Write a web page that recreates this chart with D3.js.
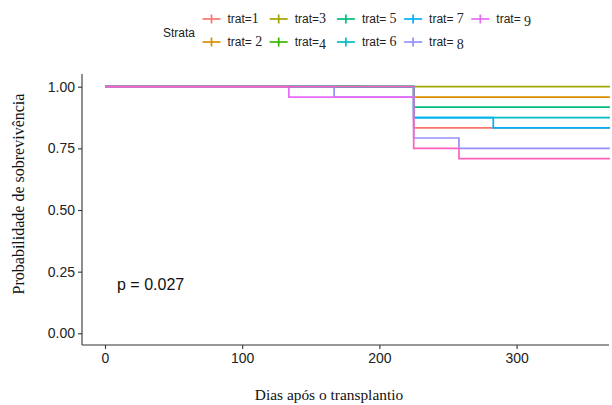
<!DOCTYPE html>
<html>
<head>
<meta charset="utf-8">
<script src="https://cdn.jsdelivr.net/npm/d3@7"></script>
<style>
  body { margin: 0; background: #fff; }
  svg { display: block; }
</style>
</head>
<body>
<div id="chart"></div>
<script>
// strata in drawing order (last one on top)
var strata = ["trat=1", "trat=2", "trat=3", "trat=4", "trat=5", "trat=6", "trat=7", "trat=8", "trat=9", "trat=10"];
var colors = ["#F8766D", "#D89000", "#A3A500", "#39B600", "#00BF7D", "#00BFC4", "#00B0F6", "#9590FF", "#E76BF3", "#FF62BC"];

// step times and survival after each step
var times = [
    [0, 225],
    [0, 225],
    [0],
    [0],
    [0, 225],
    [0, 225],
    [0, 225, 283],
    [0, 167, 225, 258],
    [0, 134],
    [0, 225, 258]
];
var surv = [
    [1, 0.833],
    [1, 0.958],
    [1],
    [1],
    [1, 0.917],
    [1, 0.875],
    [1, 0.875, 0.833],
    [1, 0.958, 0.792, 0.750],
    [1, 0.958],
    [1, 0.750, 0.708]
];
// last follow-up time of each stratum
var endTime = [368, 368, 368, 190, 368, 368, 368, 368, 225, 368];

// legend (as written on the picture)
var legendDigits = ["1", "2", "3", "4", "5", "6", "7", "8", "9"];
var legendSpace = [false, true, false, false, true, true, true, true, true];

var xTicks = [0, 100, 200, 300];
var yTicks = [0, 0.25, 0.5, 0.75, 1];

var W = 612, H = 405;
var panel = { left: 82, right: 609, top: 74, bottom: 345 };

var svg = d3.select("#chart")
    .append("svg")
    .attr("width", W)
    .attr("height", H);

var x = d3.scaleLinear()
    .domain([0, 300])
    .range([105, 516.6]);

var y = d3.scaleLinear()
    .domain([0, 1])
    .range([333.3, 86.7]);

svg.append("clipPath")
    .attr("id", "clip")
    .append("rect")
    .attr("x", panel.left)
    .attr("y", panel.top - 5)
    .attr("width", panel.right - panel.left + 2)
    .attr("height", panel.bottom - panel.top + 5);

// curves
var line = d3.line()
    .x(function (d) { return x(d[0]); })
    .y(function (d) { return y(d[1]); })
    .curve(d3.curveStepAfter);

var curves = strata.map(function (s, i) {
    var pts = times[i].map(function (t, j) { return [t, surv[i][j]]; });
    pts.push([endTime[i], surv[i][surv[i].length - 1]]);
    return pts;
});

svg.append("g")
    .attr("clip-path", "url(#clip)")
    .selectAll("path")
    .data(curves)
    .enter()
    .append("path")
    .attr("d", line)
    .attr("fill", "none")
    .attr("stroke", function (d, i) { return colors[i]; })
    .attr("stroke-width", 1.7);

// axes
var xAxis = svg.append("g")
    .attr("transform", "translate(0," + panel.bottom + ")")
    .call(d3.axisBottom(x).tickValues(xTicks).tickSize(4).tickPadding(4).tickFormat(d3.format("d")));
xAxis.select(".domain").attr("d", "M" + panel.left + ",0H" + panel.right);

var yAxis = svg.append("g")
    .attr("transform", "translate(" + panel.left + ",0)")
    .call(d3.axisLeft(y).tickValues(yTicks).tickSize(4).tickPadding(3).tickFormat(d3.format(".2f")));
yAxis.select(".domain").attr("d", "M0," + panel.top + "V" + panel.bottom);

svg.selectAll(".domain").attr("stroke", "#333").attr("stroke-width", 1.1);
svg.selectAll(".tick line").attr("stroke", "#333").attr("stroke-width", 1.1);
svg.selectAll(".tick text")
    .attr("font-family", "Liberation Sans, Arial, sans-serif")
    .attr("font-size", 14)
    .attr("fill", "#222");

// axis titles
svg.append("text")
    .attr("x", 329)
    .attr("y", 400)
    .attr("text-anchor", "middle")
    .attr("font-family", "Liberation Serif, Times New Roman, serif")
    .attr("font-size", 15.4)
    .attr("fill", "#111")
    .text("Dias após o transplantio");

svg.append("text")
    .attr("transform", "translate(24,194) rotate(-90)")
    .attr("text-anchor", "middle")
    .attr("font-family", "Liberation Serif, Times New Roman, serif")
    .attr("font-size", 16)
    .attr("fill", "#111")
    .text("Probabilidade de sobrevivência");

// p-value
svg.append("text")
    .attr("x", 117)
    .attr("y", 290)
    .attr("font-family", "Liberation Sans, Arial, sans-serif")
    .attr("font-size", 16)
    .attr("fill", "#111")
    .text("p = 0.027");

// legend
var legend = svg.append("g")
    .attr("font-family", "Liberation Sans, Arial, sans-serif");

legend.append("text")
    .attr("x", 163)
    .attr("y", 37)
    .attr("font-size", 12)
    .attr("fill", "#222")
    .text("Strata");

legendDigits.forEach(function (dg, i) {
    var col = Math.floor(i / 2), row = i % 2;
    var cx = 211.5 + col * 67.2;
    var cy = row === 0 ? 19 : 42;
    var g = legend.append("g");
    g.append("line")
        .attr("x1", cx - 9).attr("x2", cx + 9)
        .attr("y1", cy).attr("y2", cy)
        .attr("stroke", colors[i]).attr("stroke-width", 1.7);
    g.append("line")
        .attr("x1", cx).attr("x2", cx)
        .attr("y1", cy - 4.5).attr("y2", cy + 4.5)
        .attr("stroke", colors[i]).attr("stroke-width", 1.7);
    var t = g.append("text")
        .attr("x", cx + 16)
        .attr("y", cy + 4)
        .attr("font-size", 12)
        .attr("fill", "#222");
    t.append("tspan").text("trat=" + (legendSpace[i] ? "\u00a0" : ""));
    var low = (dg === "4" || dg === "8" || dg === "9") ? 3 : 0;
    t.append("tspan")
        .attr("font-family", "Liberation Serif, Times New Roman, serif")
        .attr("font-size", 14)
        .attr("dy", low)
        .text(dg);
});
</script>
</body>
</html>
